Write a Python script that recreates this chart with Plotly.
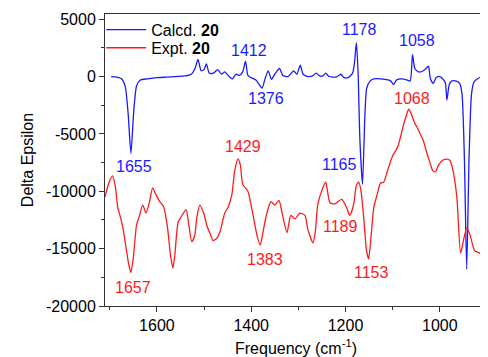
import plotly.graph_objects as go

# Calculated spectrum (blue)
calc_freq = [1697, 1685, 1675, 1667, 1661, 1655, 1649, 1643, 1635, 1620, 1600, 1580, 1560, 1540,
             1527, 1519, 1513, 1506, 1500, 1495, 1489, 1480, 1471, 1463, 1456, 1449, 1440, 1432,
             1425, 1418, 1412, 1407, 1400, 1390, 1377, 1370, 1364, 1357, 1350, 1340, 1333, 1322,
             1310, 1303, 1296, 1290, 1280, 1270, 1262, 1255, 1248, 1242, 1235, 1220, 1210, 1203,
             1195, 1185, 1181, 1177, 1173, 1170, 1164, 1159, 1155, 1148, 1140, 1125, 1110, 1104,
             1098, 1092, 1080, 1070, 1063, 1058, 1053, 1045, 1035, 1027, 1024, 1020, 1014, 1008,
             1000, 992, 988, 985, 980, 975, 965, 958, 953, 948, 943, 938, 933, 928, 920, 910, 900]
calc_vals = [0, -50, -200, -900, -3200, -6700, -3000, -800, -300, -200, -100, -50, 0, 50,
             200, 700, 1500, 500, 600, 1100, 300, 300, 600, 200, 400, 100, -200, 200,
             100, 400, 1350, 100, -100, -300, -1000, -100, 500, -250, 200, 700, 100, 0,
             500, 200, 1000, 200, 0, 50, 300, 50, 50, 300, 0, -50, 200, -100,
             -100, 300, 1200, 2950, 0, -5000, -9400, -3500, -1000, -400, -200, -200, -300, -400,
             -700, -300, -200, -300, -400, 1900, 700, 400, 500, 800, 900, -200, -600, -100,
             0, -300, -600, -2050, -700, -400, -400, -600, -1500, -7000, -16800, -7000, -1600, -500,
             -200, 0, 0]

# Experimental spectrum (red)
expt_freq = [1710, 1702, 1694, 1688, 1683, 1679, 1672, 1665, 1660, 1655, 1650, 1643, 1638, 1630,
             1623, 1616, 1609, 1603, 1594, 1586, 1578, 1571, 1566, 1562, 1555, 1548, 1538, 1532,
             1526, 1520, 1515, 1509, 1500, 1494, 1487, 1481, 1473, 1466, 1456, 1449, 1441, 1435,
             1428, 1423, 1418, 1407, 1396, 1388, 1381, 1376, 1371, 1364, 1358, 1350, 1341, 1335,
             1324, 1316, 1307, 1297, 1286, 1280, 1269, 1264, 1259, 1250, 1242, 1233, 1223, 1208,
             1198, 1191, 1183, 1177, 1172, 1167, 1161,
             1156, 1151, 1146, 1140, 1133, 1126, 1119, 1111, 1100, 1089, 1077, 1071, 1066, 1060,
             1055, 1045, 1035, 1028, 1021, 1015, 1009, 1004, 999, 994, 985, 979, 972, 964,
             956, 951, 943, 936, 926, 915, 904, 900]
expt_vals = [-10500, -9300, -8660, -9600, -11400, -12000, -13200, -15000, -16300, -17100, -15800, -12900, -12300, -11200,
             -11900, -11000, -9700, -10200, -10900, -11300, -13000, -15600, -16700, -15600, -12700, -12200, -11600, -13000,
             -14400, -13900, -12200, -11200, -12000, -13000, -13700, -14300, -14100, -13500, -11900, -11400, -10300, -8200,
             -7170, -7700, -9400, -10000, -12100, -13800, -14700, -13800, -12700, -11500, -10900, -11200, -10800, -11800,
             -13600, -12100, -12400, -11900, -12100, -13300, -14500, -13500, -11200, -9900, -9200, -11000, -11100, -10700,
             -11400, -12100, -11200, -9500, -9200, -10000, -12500,
             -15000, -15900, -14000, -11400, -10300, -9300, -9200, -8200, -6900, -6100, -4200, -3400, -2850, -3300,
             -3900, -4700, -5600, -6600, -7500, -8200, -8300, -7800, -7500, -7300, -7200, -7300, -8200, -10500,
             -15400, -14500, -13200, -13800, -15200, -15400, -16500, -17400]

# Peak labels (text position in data units)
calc_lbl_x = [1649, 1405, 1369, 1170, 1049, 1212]
calc_lbl_y = [-7800, 2240, -1880, 4120, 3140, -7700]
calc_lbl_t = ["1655", "1412", "1376", "1178", "1058", "1165"]
expt_lbl_x = [1651, 1418, 1059, 1371, 1210, 1144]
expt_lbl_y = [-18370, -6100, -1880, -15950, -13050, -17100]
expt_lbl_t = ["1657", "1429", "1068", "1383", "1189", "1153"]

y_ticks = [5000, 0, -5000, -10000, -15000, -20000]
y_tick_text = ["5000", "0", "-5000", "-10000", "-15000", "-20000"]
x_ticks = [1600, 1400, 1200, 1000]

BLUE = "#1a1aff"
RED = "#ff1a1a"
FONT = "Liberation Sans, Arial, sans-serif"

fig = go.Figure()
fig.add_trace(go.Scatter(x=calc_freq, y=calc_vals, mode="lines", name="Calcd. <b>20</b>",
                         legend="legend",
                         line=dict(color=BLUE, width=1.3, shape="spline", smoothing=0.6)))
fig.add_trace(go.Scatter(x=expt_freq, y=expt_vals, mode="lines", name="Expt. <b>20</b>",
                         legend="legend2",
                         line=dict(color=RED, width=1.3, shape="spline", smoothing=0.6)))

for x, y, t in zip(calc_lbl_x, calc_lbl_y, calc_lbl_t):
    fig.add_annotation(x=x, y=y, text=t, showarrow=False, font=dict(color=BLUE, size=16, family=FONT))
for x, y, t in zip(expt_lbl_x, expt_lbl_y, expt_lbl_t):
    fig.add_annotation(x=x, y=y, text=t, showarrow=False, font=dict(color=RED, size=16, family=FONT))

leg_common = dict(x=-0.01, xanchor="left", yanchor="middle", bgcolor="rgba(0,0,0,0)",
                  font=dict(size=16, family=FONT), itemwidth=40)

# page body has an 8px default margin, so the figure is 480x349 with offsets compensated
fig.update_layout(
    width=480, height=349,
    margin=dict(l=97, r=1, t=6, b=51, autoexpand=False),
    paper_bgcolor="white", plot_bgcolor="white",
    font=dict(family=FONT, size=16, color="black"),
    showlegend=True,
    legend=dict(y=0.946, **leg_common),
    legend2=dict(y=0.884, **leg_common),
    xaxis=dict(range=[1710, 900], tickvals=x_ticks, ticks="outside", ticklen=5,
               tickcolor="#333", showline=True, linecolor="#333", linewidth=1, mirror=True,
               showgrid=False, zeroline=False, automargin=False,
               minor=dict(dtick=100, tick0=1000, ticks="outside", ticklen=3, tickcolor="#333"),
               title=dict(text="Frequency (cm<sup>-1</sup>)", font=dict(size=16), standoff=10)),
    yaxis=dict(range=[-20000, 5450], tickvals=y_ticks, ticktext=y_tick_text, ticks="outside",
               ticklen=5, tickcolor="#333", showline=True, linecolor="#333", linewidth=1,
               mirror=True, showgrid=False, zeroline=False, automargin=False,
               minor=dict(dtick=2500, tick0=0, ticks="outside", ticklen=3, tickcolor="#333"),
               title=dict(text="Delta Epsilon", font=dict(size=16), standoff=8)),
)

fig.write_html("out.html")
